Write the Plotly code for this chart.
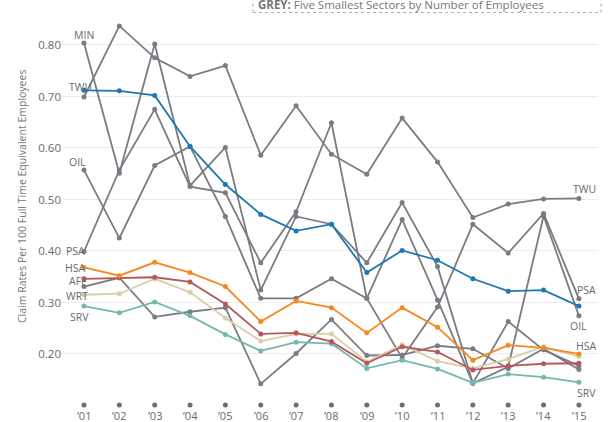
import plotly.graph_objects as go

years = list(range(2001, 2016))
tick_text = ["’01", "’02", "’03", "’04", "’05", "’06", "’07", "’08", "’09", "’10", "’11", "’12", "’13", "’14", "’15"]

# grey series (five smallest sectors)
twu = [0.699, 0.837, 0.775, 0.739, 0.760, 0.586, 0.682, 0.588, 0.549, 0.658, 0.573, 0.465, 0.491, 0.501, 0.502]
min_ = [0.804, 0.551, 0.802, 0.527, 0.601, 0.324, 0.467, 0.452, 0.377, 0.494, 0.370, 0.143, 0.175, 0.468, 0.274]
psa = [0.399, 0.557, 0.675, 0.525, 0.513, 0.377, 0.476, 0.649, 0.308, 0.461, 0.305, 0.143, 0.263, 0.208, 0.177]
oil = [0.557, 0.425, 0.566, 0.603, 0.467, 0.308, 0.308, 0.346, 0.308, 0.192, 0.291, 0.452, 0.396, 0.473, 0.307]
aff = [0.331, 0.348, 0.272, 0.282, 0.290, 0.142, 0.201, 0.267, 0.197, 0.198, 0.216, 0.210, 0.172, 0.210, 0.170]

# coloured series
blue = [0.712, 0.711, 0.702, 0.603, 0.529, 0.471, 0.439, 0.452, 0.358, 0.401, 0.382, 0.346, 0.322, 0.324, 0.293]
hsa = [0.368, 0.352, 0.378, 0.358, 0.331, 0.263, 0.303, 0.290, 0.241, 0.290, 0.252, 0.188, 0.217, 0.212, 0.200]
red = [0.346, 0.348, 0.349, 0.340, 0.297, 0.239, 0.241, 0.224, 0.182, 0.214, 0.204, 0.169, 0.177, 0.181, 0.182]
wrt = [0.315, 0.317, 0.346, 0.320, 0.270, 0.225, 0.239, 0.239, 0.185, 0.218, 0.186, 0.172, 0.190, 0.214, 0.195]
srv = [0.293, 0.280, 0.301, 0.274, 0.238, 0.206, 0.223, 0.220, 0.172, 0.188, 0.171, 0.144, 0.161, 0.155, 0.145]

y_ticks = [0.2, 0.3, 0.4, 0.5, 0.6, 0.7, 0.8]
axis_dot_level = 0.101

GREY = "#7b7b83"
fig = go.Figure()

for s in [twu, min_, psa, oil, aff]:
    fig.add_trace(go.Scatter(x=years, y=s, mode="lines+markers",
                             line=dict(color=GREY, width=1.8),
                             marker=dict(color=GREY, size=5), cliponaxis=False))

for s, c in [(srv, "#72b8ae"), (wrt, "#d8cfa6"), (red, "#b8575c"), (hsa, "#f5891f"), (blue, "#1f77b0")]:
    fig.add_trace(go.Scatter(x=years, y=s, mode="lines+markers",
                             line=dict(color=c, width=1.8),
                             marker=dict(color=c, size=5), cliponaxis=False))

# dots above the year labels
fig.add_trace(go.Scatter(x=years, y=[axis_dot_level] * len(years), mode="markers",
                         marker=dict(color="#6e6e6e", size=5), cliponaxis=False))

L, R, T, B = 62, 598, 20, 408
W, H = 608, 422


def px(xp):
    return (xp - L) / (R - L)


def py(yp):
    return (B - yp) / (B - T)


ann = []
lab_font = dict(family="Open Sans", size=10.5, color="#6a6a6a")
labels = [
    ("MIN", 84, 35, "center"), ("TWU", 80, 87, "center"), ("OIL", 77, 162, "center"),
    ("PSA", 87, 251, "right"), ("HSA", 87, 268, "right"), ("AFF", 89, 281, "right"),
    ("WRT", 90, 296, "right"), ("SRV", 91, 317, "right"),
    ("TWU", 598, 189, "right"), ("PSA", 598, 290, "right"), ("OIL", 589, 326, "right"),
    ("HSA", 598, 346, "right"), ("SRV", 598, 393, "right"),
]
for t, x, y, a in labels:
    ann.append(dict(text=t, x=px(x), y=py(y), xref="paper", yref="paper",
                    xanchor=a, yanchor="middle", showarrow=False, font=lab_font))

# year labels under the dots
for yr, t in zip(years, tick_text):
    ann.append(dict(text=t, x=yr, y=py(415), xref="x", yref="paper",
                    xanchor="center", yanchor="middle", showarrow=False,
                    font=dict(family="Open Sans", size=11, color="#6a6a6a")))

ann.append(dict(text="Claim Rates Per 100 Full Time Equivalent Employees",
                x=px(22), y=py(197), xref="paper", yref="paper", textangle=-90,
                xanchor="center", yanchor="middle", showarrow=False,
                font=dict(family="Open Sans", size=10.5, color="#777777")))

ann.append(dict(text="<b>GREY:</b> Five Smallest Sectors by Number of Employees",
                x=px(256), y=py(5), xref="paper", yref="paper",
                xanchor="left", yanchor="middle", showarrow=False,
                font=dict(family="Open Sans", size=11.5, color="#777777")))

shapes = [dict(type="rect", xref="paper", yref="paper",
               x0=px(253), x1=px(601), y0=py(12.5), y1=py(-10),
               line=dict(color="#b9a9a9", width=1, dash="dot"), fillcolor="rgba(0,0,0,0)")]

fig.update_layout(
    width=W, height=H, showlegend=False,
    margin=dict(l=L, r=W - R, t=T, b=H - B),
    paper_bgcolor="white", plot_bgcolor="white",
    annotations=ann, shapes=shapes,
    xaxis=dict(range=[2000.378, 2015.54], tickmode="array", tickvals=years,
               showticklabels=False,
               showgrid=False, zeroline=False, showline=False, ticks="", automargin=False),
    yaxis=dict(range=[0.0951, 0.8485], tickmode="array", tickvals=y_ticks,
               ticktext=[f"{v:.2f}" for v in y_ticks],
               showgrid=True, gridcolor="#ebebeb", gridwidth=1, zeroline=False, showline=False,
               ticks="", tickfont=dict(family="Open Sans", size=11.5, color="#6a6a6a"),
               automargin=False),
)

fig.write_html("out.html", config={"displayModeBar": False},
               post_script="document.body.style.margin='0';document.body.style.overflow='hidden';")
